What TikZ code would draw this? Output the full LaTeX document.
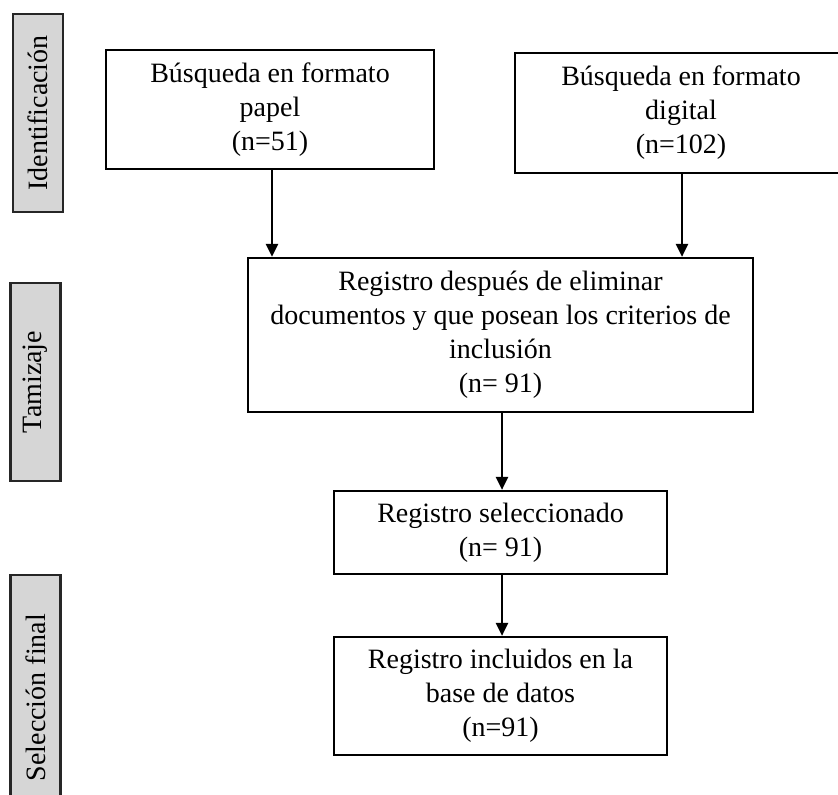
\documentclass[tikz,border=0pt]{standalone}
\usepackage{fontspec}
\setmainfont{Liberation Serif}
\usetikzlibrary{arrows.meta}

\begin{document}
\begin{tikzpicture}[x=0.5pt, y=-0.5pt,
    box/.style={draw, line width=1.1pt, align=center, inner sep=0pt,
        font=\fontsize{14}{17}\selectfont},
    phase/.style={draw=black!85, line width=1.2pt, fill=black!16, rotate=90,
        inner sep=0pt, minimum height=25pt, font=\fontsize{14}{16}\selectfont},
    arr/.style={-{Triangle[length=6.5pt,width=6pt]}, line width=1.2pt}]
    \clip (0,0) rectangle (838,795);
    \node[phase, minimum width=99pt] (id) at (38,113) {Identificación};
    \node[phase, minimum width=99pt] (tam) at (35.5,382) {Tamizaje};
    \node[phase, minimum width=122.5pt] (sel) at (35.5,697.5) {Selección final};

    \node[box, minimum width=164pt, minimum height=59.5pt] (papel) at (270,109.5)
        {Búsqueda en formato\\ papel\\ (n=51)};
    \node[box, minimum width=166pt, minimum height=60pt] (digital) at (681,113)
        {Búsqueda en formato\\ digital\\ (n=102)};
    \node[box, minimum width=252.5pt, minimum height=77pt] (reg) at (500.5,335)
        {Registro después de eliminar\\ documentos y que posean los criterios de\\ inclusión\\ (n= 91)};
    \node[box, minimum width=166.5pt, minimum height=41.5pt] (selec) at (500.5,532.5)
        {Registro seleccionado\\ (n= 91)};
    \node[box, minimum width=166.5pt, minimum height=59pt] (base) at (500.5,696)
        {Registro incluidos en la\\ base de datos\\ (n=91)};

    \draw[arr] ([xshift=1pt]papel.south) -- ([xshift=1pt]papel.south |- reg.north);
    \draw[arr] ([xshift=0.5pt]digital.south) -- ([xshift=0.5pt]digital.south |- reg.north);
    \draw[arr] ([xshift=0.75pt]reg.south) -- ([xshift=0.75pt]selec.north);
    \draw[arr] ([xshift=0.75pt]selec.south) -- ([xshift=0.75pt]base.north);
\end{tikzpicture}
\end{document}
